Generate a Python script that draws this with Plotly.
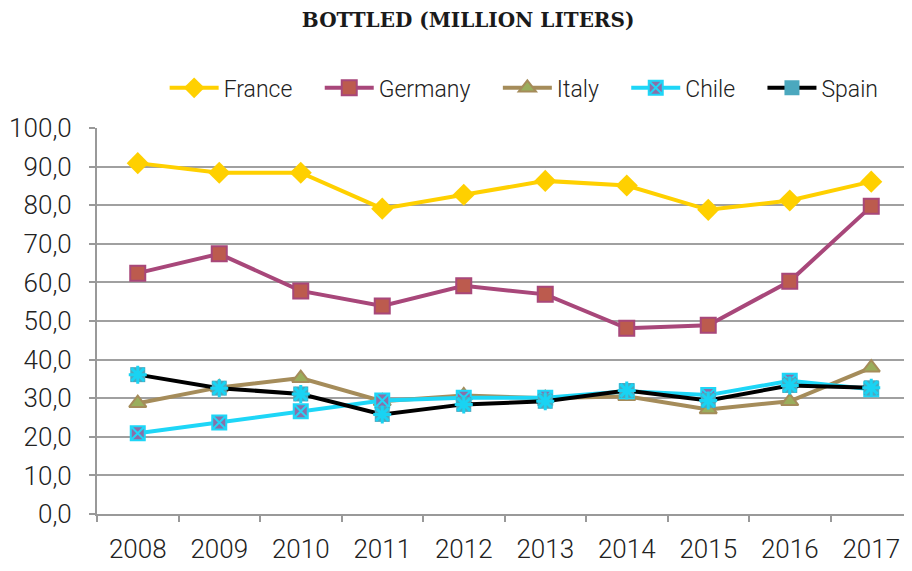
"""Bottled wine volumes by country, 2008-2017."""
import plotly.graph_objects as go

years = ["2008", "2009", "2010", "2011", "2012", "2013", "2014", "2015", "2016", "2017"]
france = [90.9, 88.4, 88.4, 79.1, 82.7, 86.3, 85.1, 78.8, 81.2, 86.1]
germany = [62.4, 67.4, 57.8, 53.9, 59.1, 56.9, 48.1, 48.9, 60.3, 79.7]
italy = [28.7, 32.8, 35.2, 29.2, 30.7, 30.0, 30.5, 27.1, 29.2, 37.9]
chile = [20.9, 23.7, 26.6, 29.4, 30.1, 30.1, 31.8, 30.8, 34.5, 32.3]
spain = [36.1, 32.6, 31.1, 25.8, 28.4, 29.2, 32.0, 29.4, 33.3, 32.7]
y_ticks = [0, 10, 20, 30, 40, 50, 60, 70, 80, 90, 100]

# the page body has an 8px margin, so the figure is drawn 8px smaller
W, H = 904, 563
PAD = "\u00a0" * 4  # extra spacing between legend entries

TICK_FONT = dict(family="Roboto", size=26, color="#222222", weight=300)

fig = go.Figure()
fig.add_trace(go.Scatter(
    x=years, y=france, name="France" + PAD, mode="lines+markers",
    line=dict(color="#FFD000", width=4),
    marker=dict(symbol="diamond", size=17, color="#FFD000"),
))
fig.add_trace(go.Scatter(
    x=years, y=germany, name="Germany" + PAD, mode="lines+markers",
    line=dict(color="#A8477A", width=4),
    marker=dict(symbol="square", size=15, color="#BC5B4E", line=dict(color="#A8477A", width=2)),
))
fig.add_trace(go.Scatter(
    x=years, y=italy, name="Italy" + PAD, mode="lines+markers",
    line=dict(color="#A58C5A", width=4),
    marker=dict(symbol="triangle-up", size=15, color="#9AAE5C", line=dict(color="#A58C5A", width=2)),
))
fig.add_trace(go.Scatter(
    x=years, y=chile, name="Chile" + PAD, mode="lines+markers",
    line=dict(color="#1ED6F7", width=4),
    marker=dict(symbol="square-x", size=14, color="#8A6FA8", line=dict(color="#1ED6F7", width=2)),
))
fig.add_trace(go.Scatter(
    x=years, y=spain, name="Spain", mode="lines+markers", legendgroup="spain",
    line=dict(color="#000000", width=4),
    marker=dict(symbol="square", size=15, color="#4BA8BE"),
))
fig.add_trace(go.Scatter(
    x=years, y=spain, name="Spain", mode="markers", legendgroup="spain", showlegend=False,
    marker=dict(symbol="asterisk-open", size=15, line=dict(color="#000000", width=3)),
))

fig.update_xaxes(
    type="category", range=[-0.5, len(years) - 0.5],
    showgrid=False, showline=True, linecolor="#999999", linewidth=2,
    ticks="outside", tickson="boundaries", ticklen=6, tickcolor="#999999", tickwidth=2,
    tickfont=TICK_FONT, ticklabelstandoff=11, automargin=False,
)
fig.update_yaxes(
    range=[0, 100], tickvals=y_ticks, tickformat=".1f",
    showgrid=True, gridcolor="#A0A0A0", gridwidth=2,
    showline=True, linecolor="#999999", linewidth=2,
    ticks="outside", ticklen=6, tickcolor="#999999", tickwidth=2,
    tickfont=TICK_FONT, ticklabelstandoff=12, zeroline=False, automargin=False,
)
fig.update_layout(
    width=W, height=H,
    separators=",.",
    template="plotly_white",
    plot_bgcolor="white", paper_bgcolor="white",
    margin=dict(l=89, r=0, t=120, b=57, autoexpand=False),
    title=dict(
        text="<b>BOTTLED (MILLION LITERS)</b>",
        font=dict(family="DejaVu Serif", size=20, color="#1a1a1a"),
        x=0.509, xanchor="center", y=0.978, yanchor="middle",
    ),
    legend=dict(
        orientation="h", x=0.083, xanchor="left", y=1.104, yanchor="middle",
        itemwidth=49,
        font=dict(family="Roboto", size=23, color="#222222", weight=300),
        bgcolor="rgba(0,0,0,0)",
    ),
)

fig.write_html("out.html")
